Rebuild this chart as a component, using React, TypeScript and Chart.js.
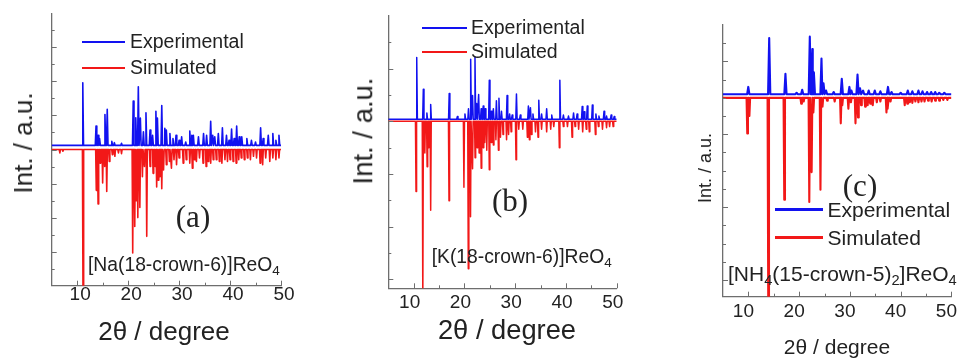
import React, { useEffect, useRef } from "react";
import { Chart, registerables } from "chart.js";

Chart.register(...registerables);

// ---------- shared axis data ----------
const X_MIN = 5;
const X_MAX = 50;
const X_MAJOR_TICKS = [10, 20, 30, 40, 50];
const X_MINOR_TICKS = [15, 25, 35, 45];

// ---------- panel (a) [Na(18-crown-6)]ReO4 ----------
const A_EXP_2THETA = [11.1, 13.7, 14.1, 14.4, 15.45, 15.9, 16.8, 17.3, 18.7, 21.0, 21.5, 22.0, 22.4, 23.0, 23.5, 24.3, 24.8, 25.45, 25.75, 26.6, 27.2, 27.5, 28.2, 28.8, 29.4, 30.0, 30.5, 31.3, 32.1, 32.5, 32.8, 33.8, 34.8, 35.4, 36.2, 36.6, 37.0, 37.7, 38.5, 39.3, 39.8, 40.3, 40.8, 41.3, 41.8, 42.3, 43.3, 44.2, 45.0, 46.0, 46.5, 47.5, 48.4, 49.0, 49.6];
const A_EXP_INT = [1.84, 0.57, 0.3, 0.2, 0.91, 1.06, 0.12, 0.08, 0.06, 1.3, 0.81, 1.72, 0.8, 0.4, 0.96, 0.45, 0.3, 1.0, 0.8, 1.17, 0.5, 0.45, 0.35, 0.2, 0.3, 0.15, 0.25, 0.1, 0.42, 0.3, 0.3, 0.25, 0.35, 0.3, 0.71, 0.3, 0.25, 0.35, 0.52, 0.3, 0.15, 0.48, 0.2, 0.57, 0.25, 0.25, 0.2, 0.15, 0.1, 0.52, 0.2, 0.3, 0.35, 0.15, 0.3];
const A_SIM_2THETA = [6.6, 7.2, 11.15, 13.75, 14.1, 14.5, 15.0, 15.4, 15.8, 16.3, 16.9, 17.4, 18.1, 18.7, 20.9, 21.3, 21.6, 21.9, 22.3, 22.8, 23.2, 23.65, 24.3, 24.9, 25.3, 25.6, 25.9, 26.25, 26.6, 26.95, 27.5, 28.1, 28.5, 29.0, 29.5, 30.0, 30.8, 31.4, 32.1, 32.6, 33.0, 33.4, 34.0, 34.7, 35.3, 35.7, 36.2, 36.7, 37.3, 37.9, 38.4, 39.0, 39.5, 40.0, 40.6, 41.2, 41.7, 42.2, 42.8, 43.4, 44.0, 44.6, 45.2, 45.9, 46.4, 47.0, 47.8, 48.4, 49.0, 49.6];
const A_SIM_INT = [0.1, 0.05, 4.5, 1.2, 1.6, 0.4, 0.98, 0.5, 1.23, 0.35, 0.15, 0.2, 0.1, 0.12, 3.04, 2.26, 1.5, 2.0, 1.7, 0.8, 0.5, 2.55, 0.5, 0.7, 0.5, 1.1, 0.9, 0.8, 1.15, 0.6, 0.45, 0.35, 0.55, 0.3, 0.45, 0.25, 0.4, 0.3, 0.4, 0.55, 0.3, 0.35, 0.25, 0.4, 0.5, 0.35, 0.4, 0.3, 0.3, 0.35, 0.4, 0.3, 0.35, 0.3, 0.35, 0.4, 0.3, 0.25, 0.3, 0.25, 0.3, 0.2, 0.25, 0.4, 0.45, 0.25, 0.35, 0.25, 0.3, 0.25];
const A_EXP_BASE = 4.12;
const A_SIM_BASE = 4.0;
const A_Y_MIN = 0;
const A_Y_MAX = 8;
const A_Y_MAJOR = [1, 2, 3, 4, 5, 6, 7];
const A_Y_MINOR = [0.5, 1.5, 2.5, 3.5, 4.5, 5.5, 6.5, 7.5];

// ---------- panel (b) [K(18-crown-6)]ReO4 ----------
const B_EXP_2THETA = [10.6, 11.9, 12.6, 13.35, 17.0, 18.6, 20.1, 20.8, 21.23, 21.6, 22.08, 22.4, 22.8, 23.3, 23.7, 24.1, 24.9, 25.3, 25.7, 26.3, 26.8, 27.3, 28.4, 28.9, 29.4, 30.25, 31.0, 32.6, 33.0, 33.5, 34.65, 35.2, 36.2, 37.2, 38.8, 39.5, 40.5, 41.5, 42.2, 43.2, 43.6, 44.2, 45.2, 45.9, 46.5, 47.5, 48.0, 48.9, 49.5];
const B_EXP_INT = [1.17, 0.57, 0.12, 0.28, 0.49, 0.05, 0.1, 0.2, 1.14, 0.45, 1.18, 0.3, 0.47, 0.2, 0.25, 0.2, 0.74, 0.15, 0.2, 0.35, 0.4, 0.15, 0.45, 0.1, 0.08, 0.48, 0.08, 0.25, 0.22, 0.1, 0.36, 0.1, 0.2, 0.08, 0.74, 0.08, 0.06, 0.12, 0.1, 0.24, 0.14, 0.25, 0.27, 0.1, 0.06, 0.15, 0.06, 0.08, 0.05];
const B_SIM_2THETA = [10.46, 11.8, 12.2, 12.65, 13.0, 13.35, 16.96, 19.9, 20.76, 21.2, 21.6, 22.1, 22.5, 22.9, 23.3, 23.7, 24.0, 24.4, 24.9, 25.3, 25.7, 26.2, 26.7, 27.1, 27.6, 28.3, 28.7, 29.2, 30.16, 30.7, 31.5, 32.4, 32.8, 33.2, 34.0, 34.5, 35.2, 36.2, 37.0, 37.6, 38.7, 39.5, 40.3, 41.2, 41.8, 42.5, 43.3, 44.0, 44.6, 45.8, 46.4, 47.2, 48.0, 48.6, 49.3];
const B_SIM_INT = [1.33, 3.5, 0.6, 0.86, 0.5, 1.69, 1.51, 1.25, 2.8, 1.81, 0.9, 0.69, 0.5, 0.6, 0.89, 0.5, 0.4, 0.55, 0.92, 0.4, 0.45, 0.35, 0.55, 0.3, 0.25, 0.35, 0.25, 0.2, 0.73, 0.15, 0.15, 0.3, 0.35, 0.25, 0.2, 0.3, 0.15, 0.2, 0.15, 0.1, 0.5, 0.1, 0.1, 0.3, 0.1, 0.15, 0.2, 0.15, 0.2, 0.25, 0.1, 0.15, 0.12, 0.1, 0.1];
const B_EXP_BASE = 3.04;
const B_SIM_BASE = 3.0;
const B_Y_MIN = -0.17;
const B_Y_MAX = 5;
const B_Y_MAJOR = [0, 1, 2, 3, 4];
const B_Y_MINOR = [0.5, 1.5, 2.5, 3.5, 4.5];

// ---------- panel (c) [NH4(15-crown-5)2]ReO4 ----------
const C_EXP_2THETA = [9.98, 14.1, 17.3, 19.5, 20.6, 22.1, 22.6, 22.9, 24.4, 24.8, 25.3, 26.8, 28.4, 29.9, 30.3, 31.5, 32.0, 32.6, 33.7, 34.9, 36.0, 37.5, 38.2, 40.0, 41.4, 42.3, 43.5, 44.3, 45.2, 46.0, 46.8, 47.6, 48.6];
const C_EXP_INT = [0.1, 0.77, 0.28, 0.02, 0.06, 0.79, 0.62, 0.3, 0.49, 0.15, 0.05, 0.03, 0.21, 0.1, 0.05, 0.27, 0.08, 0.05, 0.05, 0.05, 0.04, 0.1, 0.03, 0.02, 0.05, 0.04, 0.05, 0.04, 0.03, 0.03, 0.03, 0.02, 0.02];
const C_SIM_2THETA = [9.78, 10.2, 13.92, 17.07, 20.4, 20.9, 22.0, 22.46, 22.8, 24.2, 24.6, 25.5, 27.0, 28.2, 28.5, 29.7, 30.2, 31.1, 31.6, 32.2, 33.0, 33.5, 34.0, 34.5, 35.3, 36.0, 37.2, 37.5, 38.0, 40.8, 41.3, 41.8, 42.3, 42.9, 43.5, 44.1, 44.7, 45.4, 46.1, 46.8, 47.6, 48.4, 49.2];
const C_SIM_INT = [0.49, 0.25, 2.9, 1.4, 0.08, 0.05, 1.43, 1.02, 0.2, 1.26, 0.12, 0.04, 0.05, 0.35, 0.1, 0.15, 0.06, 0.35, 0.27, 0.1, 0.12, 0.1, 0.08, 0.1, 0.06, 0.05, 0.2, 0.15, 0.05, 0.1, 0.08, 0.06, 0.07, 0.05, 0.06, 0.05, 0.05, 0.04, 0.05, 0.04, 0.04, 0.03, 0.03];
const C_EXP_BASE = 2.55;
const C_SIM_BASE = 2.5;
const C_Y_MIN = -0.23;
const C_Y_MAX = 3.5;
const C_Y_MAJOR = [0, 1, 2, 3];
const C_Y_MINOR = [0.25, 0.5, 0.75, 1.25, 1.5, 1.75, 2.25, 2.5, 2.75, 3.25];

// ---------- style ----------
const FONT = '"Liberation Sans", Arial, Helvetica, sans-serif';
const SERIF = '"Liberation Serif", "Times New Roman", serif';
const BLUE = "#1212f0";
const RED = "#f21818";
const AXIS = "#6e6e6e";
const TEXT = "#222";

type Pt = { x: number; y: number };

// Builds a stick-profile line (baseline -> peak -> baseline) from peak positions & intensities.
function buildTrace(pos: number[], ints: number[], base: number, sign: number, halfW: number): Pt[] {
  const pts: Pt[] = [{ x: X_MIN, y: base }];
  pos.forEach((p, i) => {
    pts.push({ x: p - halfW, y: base });
    pts.push({ x: p, y: base + sign * ints[i] });
    pts.push({ x: p + halfW, y: base });
  });
  pts.push({ x: X_MAX, y: base });
  pts.sort((a, b) => a.x - b.x);
  return pts;
}

const innerTicks = {
  id: "innerTicks",
  afterDatasetsDraw(chart: any, _args: any, opts: any) {
    const { ctx, chartArea } = chart;
    const xs = chart.scales.x;
    const ys = chart.scales.y;
    ctx.save();
    ctx.strokeStyle = AXIS;
    ctx.lineWidth = 1;
    const seg = (x1: number, y1: number, x2: number, y2: number) => {
      ctx.beginPath();
      ctx.moveTo(x1, y1);
      ctx.lineTo(x2, y2);
      ctx.stroke();
    };
    X_MAJOR_TICKS.forEach((v) => {
      const p = Math.round(xs.getPixelForValue(v)) + 0.5;
      seg(p, chartArea.bottom, p, chartArea.bottom - 5);
    });
    X_MINOR_TICKS.forEach((v) => {
      const p = Math.round(xs.getPixelForValue(v)) + 0.5;
      seg(p, chartArea.bottom, p, chartArea.bottom - 3);
    });
    (opts.yMajor || []).forEach((v: number) => {
      const p = Math.round(ys.getPixelForValue(v)) + 0.5;
      seg(chartArea.left, p, chartArea.left + 5, p);
    });
    (opts.yMinor || []).forEach((v: number) => {
      const p = Math.round(ys.getPixelForValue(v)) + 0.5;
      seg(chartArea.left, p, chartArea.left + 3, p);
    });
    ctx.restore();
  },
};

type PanelProps = {
  left: number;
  width: number;
  plot: { l: number; r: number; t: number; b: number };
  exp: Pt[];
  sim: Pt[];
  yMin: number;
  yMax: number;
  yMajor: number[];
  yMinor: number[];
  lineW: number;
  tickPad: number;
  tickSize: number;
  labelShift: number;
};

const H = 358;

function Panel(p: PanelProps) {
  const ref = useRef<HTMLCanvasElement | null>(null);
  useEffect(() => {
    if (!ref.current) return;
    const chart = new Chart(ref.current, {
      type: "line",
      data: {
        datasets: [
          { label: "Experimental", data: p.exp, borderColor: BLUE, borderWidth: p.lineW, pointRadius: 0, tension: 0, fill: false, borderJoinStyle: "round" },
          { label: "Simulated", data: p.sim, borderColor: RED, borderWidth: p.lineW, pointRadius: 0, tension: 0, fill: false, borderJoinStyle: "round" },
        ],
      },
      options: {
        animation: false,
        responsive: false,
        layout: { padding: { left: 0, top: p.plot.t, right: p.width - p.plot.r, bottom: 0 } },
        plugins: {
          legend: { display: false },
          tooltip: { enabled: false },
          innerTicks: { yMajor: p.yMajor, yMinor: p.yMinor },
        } as any,
        scales: {
          x: {
            type: "linear",
            min: X_MIN,
            max: X_MAX,
            grid: { display: true, drawOnChartArea: false, drawTicks: false },
            border: { display: true, color: AXIS, width: 1.3 },
            ticks: {
              color: TEXT,
              font: { family: FONT, size: p.tickSize, lineHeight: 1 },
              padding: p.tickPad,
              labelOffset: p.labelShift,
              maxRotation: 0,
              autoSkip: false,
            },
            afterBuildTicks: (s: any) => {
              s.ticks = X_MAJOR_TICKS.map((v) => ({ value: v }));
            },
            afterFit: (s: any) => {
              s.height = H - p.plot.b;
            },
          },
          y: {
            type: "linear",
            min: p.yMin,
            max: p.yMax,
            grid: { display: true, drawOnChartArea: false, drawTicks: false },
            border: { display: true, color: AXIS, width: 1.3 },
            ticks: { display: false },
            afterFit: (s: any) => {
              s.width = p.plot.l;
            },
          },
        },
      } as any,
      plugins: [innerTicks as any],
    });
    return () => chart.destroy();
  }, []);
  return (
    <canvas
      ref={ref}
      width={p.width}
      height={H}
      style={{ position: "absolute", left: p.left, top: 0, width: p.width, height: H }}
    />
  );
}

function Text(props: { cx: number; cy: number; size: number; rotate?: number; family?: string; children: React.ReactNode }) {
  return (
    <div
      style={{
        position: "absolute",
        left: props.cx,
        top: props.cy,
        transform: `translate(-50%, -50%) rotate(${props.rotate || 0}deg)`,
        fontSize: props.size,
        fontFamily: props.family || FONT,
        color: TEXT,
        lineHeight: 1,
        whiteSpace: "nowrap",
      }}
    >
      {props.children}
    </div>
  );
}

function LeftText(props: { x: number; cy: number; size: number; children: React.ReactNode }) {
  return (
    <div
      style={{
        position: "absolute",
        left: props.x,
        top: props.cy,
        transform: "translateY(-50%)",
        fontSize: props.size,
        fontFamily: FONT,
        color: TEXT,
        lineHeight: 1,
        whiteSpace: "nowrap",
      }}
    >
      {props.children}
    </div>
  );
}

function LegendRow(props: { x: number; cy: number; len: number; thick: number; color: string; textX: number; size: number; label: string }) {
  return (
    <>
      <div
        style={{
          position: "absolute",
          left: props.x,
          top: Math.round(props.cy - props.thick / 2),
          width: props.len,
          height: props.thick,
          background: props.color,
        }}
      />
      <LeftText x={props.textX} cy={props.cy} size={props.size}>
        {props.label}
      </LeftText>
    </>
  );
}

const subStyle: React.CSSProperties = { fontSize: "0.7em", verticalAlign: "-0.3em", lineHeight: 0 };

export default function App() {
  const aExp = buildTrace(A_EXP_2THETA, A_EXP_INT, A_EXP_BASE, 1, 0.15);
  const aSim = buildTrace(A_SIM_2THETA, A_SIM_INT, A_SIM_BASE, -1, 0.12);
  const bExp = buildTrace(B_EXP_2THETA, B_EXP_INT, B_EXP_BASE, 1, 0.13);
  const bSim = buildTrace(B_SIM_2THETA, B_SIM_INT, B_SIM_BASE, -1, 0.11);
  const cExp = buildTrace(C_EXP_2THETA, C_EXP_INT, C_EXP_BASE, 1, 0.22);
  const cSim = buildTrace(C_SIM_2THETA, C_SIM_INT, C_SIM_BASE, -1, 0.14);

  return (
    <div style={{ position: "fixed", left: 0, top: 0, width: 968, height: H, background: "#fff", overflow: "hidden" }}>
      <Panel left={0} width={320} plot={{ l: 51.7, r: 281, t: 13.3, b: 285.7 }} exp={aExp} sim={aSim}
        yMin={A_Y_MIN} yMax={A_Y_MAX} yMajor={A_Y_MAJOR} yMinor={A_Y_MINOR} lineW={1.6} tickPad={0} tickSize={19} labelShift={3} />
      <Panel left={320} width={320} plot={{ l: 68.3, r: 296.7, t: 16, b: 288.3 }} exp={bExp} sim={bSim}
        yMin={B_Y_MIN} yMax={B_Y_MAX} yMajor={B_Y_MAJOR} yMinor={B_Y_MINOR} lineW={1.5} tickPad={5} tickSize={19} labelShift={-4} />
      <Panel left={640} width={328} plot={{ l: 83, r: 312, t: 25, b: 296.7 }} exp={cExp} sim={cSim}
        yMin={C_Y_MIN} yMax={C_Y_MAX} yMajor={C_Y_MAJOR} yMinor={C_Y_MINOR} lineW={2.1} tickPad={6} tickSize={19} labelShift={-5} />

      {/* panel (a) texts */}
      <LegendRow x={82} cy={42} len={43} thick={2} color={BLUE} textX={130} size={19.5} label="Experimental" />
      <LegendRow x={82} cy={68} len={43} thick={2} color={RED} textX={130} size={19.5} label="Simulated" />
      <Text cx={23} cy={143} size={26} rotate={-90}>Int. / a.u.</Text>
      <Text cx={164} cy={331} size={26}>2θ / degree</Text>
      <Text cx={193} cy={216} size={31} family={SERIF}>(a)</Text>
      <LeftText x={88} cy={265} size={19.3}>
        [Na(18-crown-6)]ReO<span style={subStyle}>4</span>
      </LeftText>

      {/* panel (b) texts */}
      <LegendRow x={422} cy={28} len={45} thick={2} color={BLUE} textX={471} size={19.5} label="Experimental" />
      <LegendRow x={422} cy={52} len={45} thick={2} color={RED} textX={471} size={19.5} label="Simulated" />
      <Text cx={363} cy={131} size={27.5} rotate={-90}>Int. / a.u.</Text>
      <Text cx={507} cy={330} size={27.3}>2θ / degree</Text>
      <Text cx={510} cy={200} size={31} family={SERIF}>(b)</Text>
      <LeftText x={431.7} cy={257} size={19.3}>
        [K(18-crown-6)]ReO<span style={subStyle}>4</span>
      </LeftText>

      {/* panel (c) texts */}
      <LegendRow x={775} cy={209} len={48} thick={3} color={BLUE} textX={827.5} size={21} label="Experimental" />
      <LegendRow x={775} cy={237} len={48} thick={3} color={RED} textX={827.5} size={21} label="Simulated" />
      <Text cx={705} cy={168} size={18} rotate={-90}>Int. / a.u.</Text>
      <Text cx={837} cy={346} size={21}>2θ / degree</Text>
      <Text cx={860} cy={185} size={31} family={SERIF}>(c)</Text>
      <LeftText x={728} cy={273} size={21}>
        [NH<span style={subStyle}>4</span>(15-crown-5)<span style={subStyle}>2</span>]ReO<span style={subStyle}>4</span>
      </LeftText>
    </div>
  );
}
